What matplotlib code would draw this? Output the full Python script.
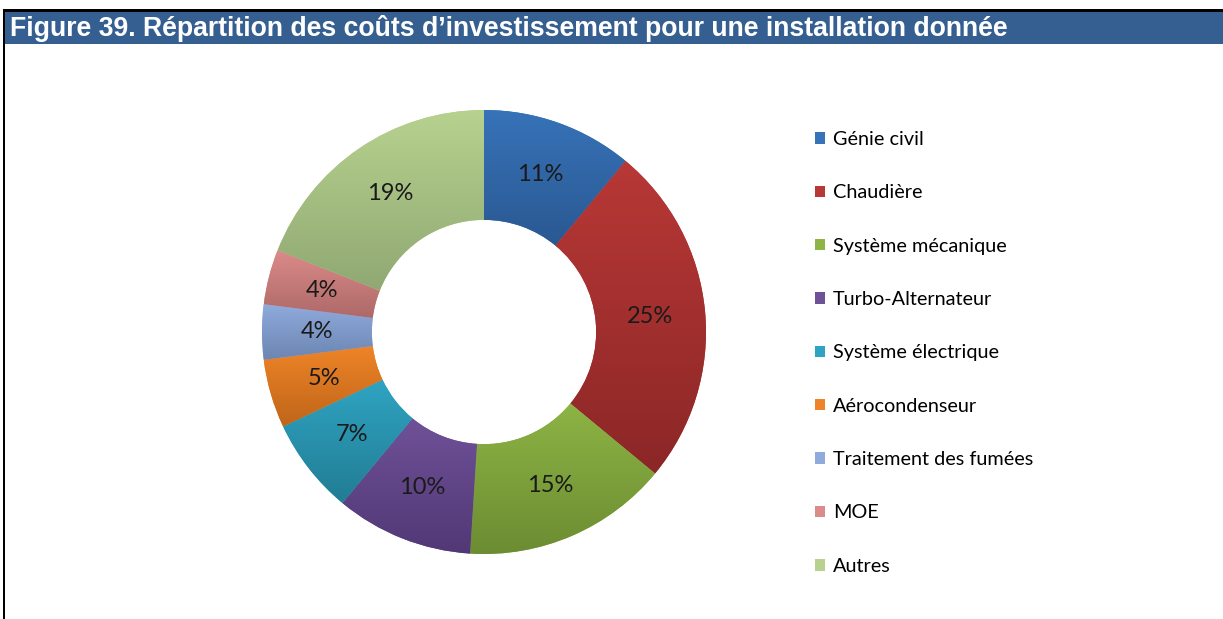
import numpy as np
import matplotlib
matplotlib.use("Agg")
import matplotlib.pyplot as plt
from matplotlib.colors import LinearSegmentedColormap, to_rgb
from matplotlib.patches import Rectangle

# Répartition des coûts d'investissement (%)
postes = ["Génie civil", "Chaudière", "Système mécanique", "Turbo-Alternateur",
          "Système électrique", "Aérocondenseur", "Traitement des fumées",
          "MOE", "Autres"]
parts = [11, 25, 15, 10, 7, 5, 4, 4, 19]

# couleurs de base (haut du dégradé / bas du dégradé)
couleurs_haut = ["#3773B8", "#B83836", "#8DB445", "#6F5198", "#2FA4C2",
                 "#EE8428", "#8FABDC", "#DB8B89", "#B7D28F"]
couleurs_bas = ["#2A5892", "#8B2727", "#6C8C32", "#513875", "#227C94",
                "#BF6519", "#6C85B2", "#AD6968", "#90A873"]

W, H = 1223, 619
fig = plt.figure(figsize=(W / 100, H / 100), dpi=100)
fig.patch.set_facecolor("white")

# bandeau du titre + cadre
fig.patches.append(Rectangle((5 / W, 1 - 44 / H), 1 - 5 / W, 32 / H,
                             transform=fig.transFigure, facecolor="#355F91",
                             edgecolor="none", zorder=1))
fig.patches.append(Rectangle((3 / W, 1 - 11.5 / H), 1, 2 / H,
                             transform=fig.transFigure, facecolor="black",
                             edgecolor="none", zorder=2))
fig.patches.append(Rectangle((3 / W, 0), 2.2 / W, 1 - 10 / H,
                             transform=fig.transFigure, facecolor="black",
                             edgecolor="none", zorder=2))
fig.text(10 / W, 1 - 29 / H,
         "Figure 39. Répartition des coûts d’investissement pour une installation donnée",
         color="white", fontsize=19.2, fontweight="bold", family="Liberation Sans",
         va="center", ha="left", zorder=3)

# anneau
cx, cy, r = 484, H - 332, 222
ax = fig.add_axes([(cx - r) / W, (cy - r) / H, 2 * r / W, 2 * r / H])
wedges, _ = ax.pie(parts, radius=1, startangle=90, counterclock=False,
                   colors=couleurs_haut, wedgeprops=dict(width=0.495, linewidth=0))

grad = np.linspace(0, 1, 256).reshape(-1, 1)
for w, c_top, c_bot in zip(wedges, couleurs_haut, couleurs_bas):
    ext = w.get_path().get_extents()
    cmap = LinearSegmentedColormap.from_list("g", [to_rgb(c_bot), to_rgb(c_top)])
    im = ax.imshow(grad, cmap=cmap, origin="lower", aspect="auto",
                   extent=(ext.x0, ext.x1, ext.y0, ext.y1), interpolation="bilinear",
                   zorder=2)
    im.set_clip_path(w)

# étiquettes de pourcentage au milieu de l'anneau
rmid = 1 - 0.495 / 2
cum = 0
for p in parts:
    ang = np.deg2rad(90 - (cum + p / 2) * 3.6)
    ax.text(rmid * np.cos(ang), rmid * np.sin(ang), f"{p}%", ha="center",
            va="center", fontsize=17, family="Lato", color="#1a1a1a", zorder=3)
    cum += p

ax.set_xlim(-1, 1)
ax.set_ylim(-1, 1)
ax.set_aspect("equal")
ax.axis("off")

leg = fig.legend(wedges, postes, loc="upper left",
                 bbox_to_anchor=(815 / W, 1 - 131 / H), frameon=False,
                 prop={"family": "Lato", "size": 14.3}, handlelength=0.52,
                 handleheight=0.52, handletextpad=0.38, labelspacing=1.83,
                 borderpad=0, borderaxespad=0)

fig.savefig("out.png", dpi=100)
